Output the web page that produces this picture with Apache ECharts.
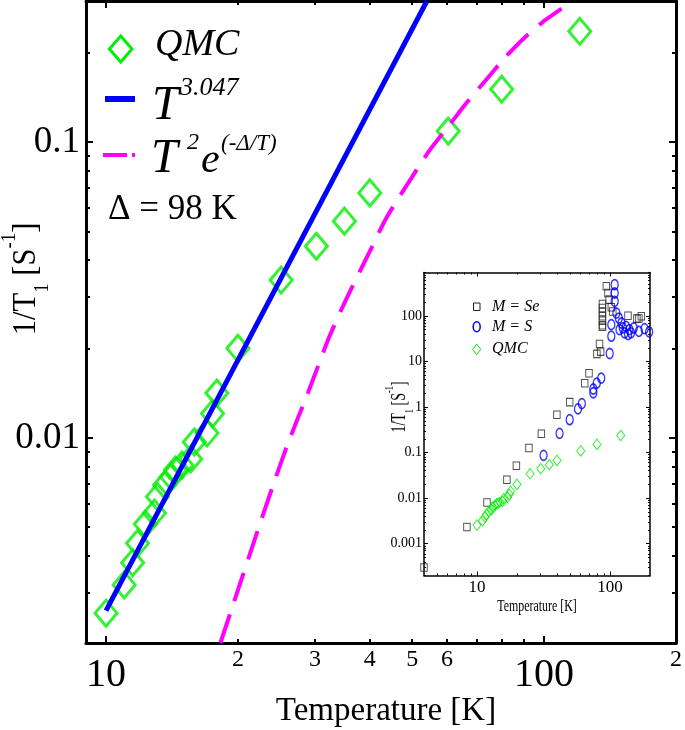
<!DOCTYPE html>
<html><head><meta charset="utf-8">
<script src="https://cdn.jsdelivr.net/npm/echarts@6/dist/echarts.min.js"></script>
<style>html,body{margin:0;padding:0;background:#fff}#c{width:685px;height:730px}</style>
</head><body><div id="c"></div>
<script>
// ---- data ----
const qmcT = [10, 11.0, 11.5, 11.8, 12.3, 12.9, 13.1, 13.6, 14.1, 14.4, 14.9, 15.6, 15.9, 17.0, 17.5, 17.9, 20.0, 25.1, 30.2, 35.0, 40.0, 60.4, 80.0, 120.6];
const qmcV = [0.00256, 0.00319, 0.00379, 0.00441, 0.00512, 0.00558, 0.00634, 0.00694, 0.0074, 0.0078, 0.0081, 0.0085, 0.0097, 0.0104, 0.0121, 0.0142, 0.0201, 0.0342, 0.0445, 0.0541, 0.0674, 0.109, 0.151, 0.237];
const fitT = [10, 54.0];
const fitV = [0.00261, 0.3];
const gapT = [18.24, 20.07, 21.89, 24.07, 26.02, 28.87, 32.33, 35.54, 39.44, 43.76, 50.27, 54.81, 60.31, 66.32, 73.58, 81.66, 90.59, 100.5, 109.6];
const gapV = [0.00203, 0.00311, 0.00458, 0.00694, 0.0096, 0.01416, 0.022, 0.030, 0.041, 0.0559, 0.0774, 0.094, 0.1126, 0.1351, 0.162, 0.1942, 0.2268, 0.2584, 0.2829];
const seT = [4.0, 8.41, 11.9, 16.8, 19.8, 24.6, 30.5, 39.9, 49.8, 64.6, 69.6, 79.8, 85.1, 83.5, 87.8, 87.8, 87.8, 87.8, 87.8, 87.8, 87.8, 93.9, 96.6, 98.5, 102.4, 105, 136.6, 159.4, 165, 172];
const seV = [0.0003, 0.00232, 0.00805, 0.0254, 0.0513, 0.126, 0.258, 0.675, 1.28, 3.34, 5.54, 14.7, 16.5, 24.3, 58, 62.5, 78.9, 98.5, 122, 150, 183, 448, 319, 228, 155, 125, 101.5, 87.3, 88, 98.5];
const sT = [31.7, 41.8, 49.8, 57.5, 61.5, 75.0, 75.0, 79.6, 86.0, 99.5, 102.4, 102.4, 108.5, 108.5, 108.5, 111.8, 116.7, 118, 122, 125, 129, 132, 137, 140, 144, 151, 165, 182, 197];
const sV = [0.087, 0.265, 0.527, 0.91, 1.19, 2.06, 2.49, 3.34, 4.3, 15.0, 35.9, 64.5, 485, 319, 210, 116, 90, 50, 70, 54.5, 42.4, 59, 39, 50, 42.4, 54.5, 46, 52.6, 44.6];

// ---- ticks / labels ----
const mainXMajor = [10, 100];
const mainXMinor = [20, 30, 40, 50, 60, 70, 80, 90];
const mainXLabels = [10, 20, 30, 40, 50, 60, 100, 200];
const mainYMajor = [0.01, 0.1];
const mainYMinor = [0.003, 0.004, 0.005, 0.006, 0.007, 0.008, 0.009, 0.02, 0.03, 0.04, 0.05, 0.06, 0.07, 0.08, 0.09, 0.2];
const mainYLabels = [0.01, 0.1];
const insXMajor = [10, 100];
const insXMinor = [5, 6, 7, 8, 9, 20, 30, 40, 50, 60, 70, 80, 90];
const insXLabels = [10, 100];
const insYMajor = [0.001, 0.01, 0.1, 1, 10, 100];
const insYLabels = [0.001, 0.01, 0.1, 1, 10, 100];
const insYMinor = [];
[0.0001, 0.001, 0.01, 0.1, 1, 10, 100].forEach(d => { for (let k = 2; k <= 9; k++) insYMinor.push(Number((k * d).toPrecision(6))); });

const FF = '"Liberation Serif", "Times New Roman", serif';
const zip = (a, b) => a.map((v, i) => [v, b[i]]);

function ax(o) {
  return {
    type: 'log', logBase: 10, gridIndex: o.grid, position: o.pos, min: o.min, max: o.max,
    axisLine: { show: !!o.line, onZero: false, lineStyle: { color: '#000', width: o.lw || 1 } },
    axisTick: { show: true, inside: true, length: o.len, customValues: o.ticks, lineStyle: { color: '#000', width: o.tw || 1 } },
    axisLabel: o.label ? Object.assign({ show: true, customValues: o.labels, color: '#000', fontFamily: FF }, o.label) : { show: false },
    splitLine: { show: false }, minorTick: { show: false }, minorSplitLine: { show: false }
  };
}

const MX = { min: 9, max: 200 }, MY = { min: 0.00203, max: 0.3 };
const IX = { min: 4, max: 200 }, IY = { min: 0.0002, max: 900 };

const xAxes = [
  ax(Object.assign({ grid: 0, pos: 'bottom', line: true, lw: 3, len: 7, tw: 2, ticks: mainXMajor, labels: mainXLabels,
    label: { margin: 5, formatter: v => (v === 10 || v === 100) ? '{big|' + v + '}' : '{small|' + String(v).charAt(0) + '}',
      rich: { big: { fontSize: 40, fontFamily: FF, color: '#000', padding: [7, 0, 0, 0] }, small: { fontSize: 24, fontFamily: FF, color: '#000', padding: [0, 0, 8, 0] } } } }, MX)),
  ax(Object.assign({ grid: 0, pos: 'bottom', line: false, len: 4, tw: 2, ticks: mainXMinor }, MX)),
  ax(Object.assign({ grid: 0, pos: 'top', line: true, lw: 3, len: 7, tw: 2, ticks: mainXMajor }, MX)),
  ax(Object.assign({ grid: 0, pos: 'top', line: false, len: 4, tw: 2, ticks: mainXMinor }, MX)),
  ax(Object.assign({ grid: 1, pos: 'bottom', line: true, lw: 1.5, len: 4, tw: 1, ticks: insXMajor, labels: insXLabels,
    label: { margin: 4, fontSize: 17, formatter: v => String(v) } }, IX)),
  ax(Object.assign({ grid: 1, pos: 'bottom', line: false, len: 2, tw: 1, ticks: insXMinor }, IX)),
  ax(Object.assign({ grid: 1, pos: 'top', line: true, lw: 1.5, len: 4, tw: 1, ticks: insXMajor }, IX)),
  ax(Object.assign({ grid: 1, pos: 'top', line: false, len: 2, tw: 1, ticks: insXMinor }, IX))
];
const yAxes = [
  ax(Object.assign({ grid: 0, pos: 'left', line: true, lw: 3, len: 7, tw: 2, ticks: mainYMajor, labels: mainYLabels,
    label: { margin: 6, fontSize: 37, formatter: v => String(v) } }, MY)),
  ax(Object.assign({ grid: 0, pos: 'left', line: false, len: 4, tw: 2, ticks: mainYMinor }, MY)),
  ax(Object.assign({ grid: 0, pos: 'right', line: true, lw: 3, len: 7, tw: 2, ticks: mainYMajor }, MY)),
  ax(Object.assign({ grid: 0, pos: 'right', line: false, len: 4, tw: 2, ticks: mainYMinor }, MY)),
  ax(Object.assign({ grid: 1, pos: 'left', line: true, lw: 1.5, len: 4, tw: 1, ticks: insYMajor, labels: insYLabels,
    label: { margin: 2, fontSize: 14, formatter: v => String(v) } }, IY)),
  ax(Object.assign({ grid: 1, pos: 'left', line: false, len: 2, tw: 1, ticks: insYMinor }, IY)),
  ax(Object.assign({ grid: 1, pos: 'right', line: true, lw: 1.5, len: 4, tw: 1, ticks: insYMajor }, IY)),
  ax(Object.assign({ grid: 1, pos: 'right', line: false, len: 2, tw: 1, ticks: insYMinor }, IY))
];

const GREEN = '#00ee00', BLUE = '#0000ff', MAG = '#ff00ff';

function txt(x, y, s, size, italic, extra, el) {
  return Object.assign({ type: 'text', x: x, y: y, z: 100,
    style: Object.assign({ text: s, fontSize: size, fontFamily: FF, fontStyle: italic ? 'italic' : 'normal', fill: '#000', verticalAlign: 'middle', align: 'left' }, extra || {}) }, el || {});
}

const graphics = [
  // main legend
  { type: 'polygon', z: 100, shape: { points: [[120.7, 36], [132, 49], [120.7, 62], [109.4, 49]] }, style: { fill: 'none', stroke: GREEN, lineWidth: 3 } },
  txt(155, 45, 'QMC', 38, true),
  { type: 'line', z: 100, shape: { x1: 105, y1: 99, x2: 135, y2: 99 }, style: { stroke: BLUE, lineWidth: 6 } },
  txt(152, 106, 'T', 48, true),
  txt(180, 88, '3.047', 26, true),
  { type: 'line', z: 100, shape: { x1: 103, y1: 155, x2: 135, y2: 155 }, style: { stroke: MAG, lineWidth: 4, lineDash: [24, 5] } },
  txt(151, 159, 'T', 48, true),
  txt(187, 143, '2', 24, true),
  txt(201, 161, 'e', 42, true),
  txt(221, 144, '(-\u0394/T)', 23, true),
  txt(108, 210, '\u0394 = 98 K', 35, false),
  // main axis titles
  txt(386, 711, 'Temperature [K]', 33, false, { align: 'center' }),
  { type: 'text', x: 26, y: 279, rotation: Math.PI / 2, scaleX: 0.9, z: 100,
    style: { text: '{a|1/T}{sub|1}{a| [S}{sup|-1}{a|]}', align: 'center', verticalAlign: 'middle',
      rich: { a: { fontSize: 34, fontFamily: FF, lineHeight: 54, fill: '#000' },
              sub: { fontSize: 21, fontFamily: FF, verticalAlign: 'bottom', fill: '#000' },
              sup: { fontSize: 21, fontFamily: FF, verticalAlign: 'top', fill: '#000' } } } },
  // inset legend
  { type: 'rect', z: 100, shape: { x: 473.5, y: 303, width: 6.5, height: 7.5 }, style: { fill: 'none', stroke: '#222', lineWidth: 1 } },
  txt(492, 307, 'M = Se', 16, true),
  { type: 'ellipse', z: 100, shape: { cx: 476.7, cy: 326.7, rx: 3.5, ry: 5 }, style: { fill: 'none', stroke: BLUE, lineWidth: 1.5 } },
  txt(492, 327, 'M = S', 16, true),
  { type: 'polygon', z: 100, shape: { points: [[476.7, 344], [480.7, 349.3], [476.7, 354.6], [472.7, 349.3]] }, style: { fill: 'none', stroke: GREEN, lineWidth: 1 } },
  txt(492, 349, 'QMC', 16, true),
  // inset axis titles
  txt(537, 607, 'Temperature [K]', 17, false, { align: 'center' }, { scaleX: 0.7 }),
  { type: 'text', x: 400, y: 407, rotation: Math.PI / 2, scaleX: 0.7, z: 100,
    style: { text: '{a|1/T}{sub|1}{a| [S}{sup|-1}{a|]}', align: 'center', verticalAlign: 'middle',
      rich: { a: { fontSize: 20, fontFamily: FF, lineHeight: 32, fill: '#000' },
              sub: { fontSize: 12, fontFamily: FF, verticalAlign: 'bottom', fill: '#000' },
              sup: { fontSize: 12, fontFamily: FF, verticalAlign: 'top', fill: '#000' } } } }
];

const chart = echarts.init(document.getElementById('c'), null, { renderer: 'canvas' });
chart.setOption({
  animation: false,
  backgroundColor: '#fff',
  grid: [
    { left: 86, top: 1, width: 596, height: 642, containLabel: false },
    { left: 424, top: 272.5, width: 226, height: 303, containLabel: false }
  ],
  xAxis: xAxes,
  yAxis: yAxes,
  series: [
    { name: 'QMC', type: 'scatter', xAxisIndex: 0, yAxisIndex: 0, data: zip(qmcT, qmcV), symbol: 'diamond', symbolSize: [22, 26],
      itemStyle: { color: 'rgba(0,0,0,0)', borderColor: GREEN, borderWidth: 3 }, z: 3 },
    { name: 'fit', type: 'line', xAxisIndex: 0, yAxisIndex: 0, data: zip(fitT, fitV), symbol: 'none', lineStyle: { color: BLUE, width: 5 }, z: 4 },
    { name: 'gap', type: 'line', xAxisIndex: 0, yAxisIndex: 0, data: zip(gapT, gapV), symbol: 'none', smooth: 0.2, lineStyle: { color: MAG, width: 4, type: [30, 14] }, z: 4 },
    { name: 'Se', type: 'scatter', xAxisIndex: 4, yAxisIndex: 4, data: zip(seT, seV), symbol: 'rect', symbolSize: [6.5, 7.5],
      itemStyle: { color: 'rgba(0,0,0,0)', borderColor: '#222', borderWidth: 1 }, z: 5 },
    { name: 'S', type: 'scatter', xAxisIndex: 4, yAxisIndex: 4, data: zip(sT, sV), symbol: 'circle', symbolSize: [7, 10],
      itemStyle: { color: 'rgba(0,0,0,0)', borderColor: BLUE, borderWidth: 1.5 }, z: 5 },
    { name: 'QMCi', type: 'scatter', xAxisIndex: 4, yAxisIndex: 4, data: zip(qmcT, qmcV), symbol: 'diamond', symbolSize: [8, 10.5],
      itemStyle: { color: 'rgba(0,0,0,0)', borderColor: GREEN, borderWidth: 1 }, z: 5 }
  ],
  graphic: graphics
});
</script></body></html>
